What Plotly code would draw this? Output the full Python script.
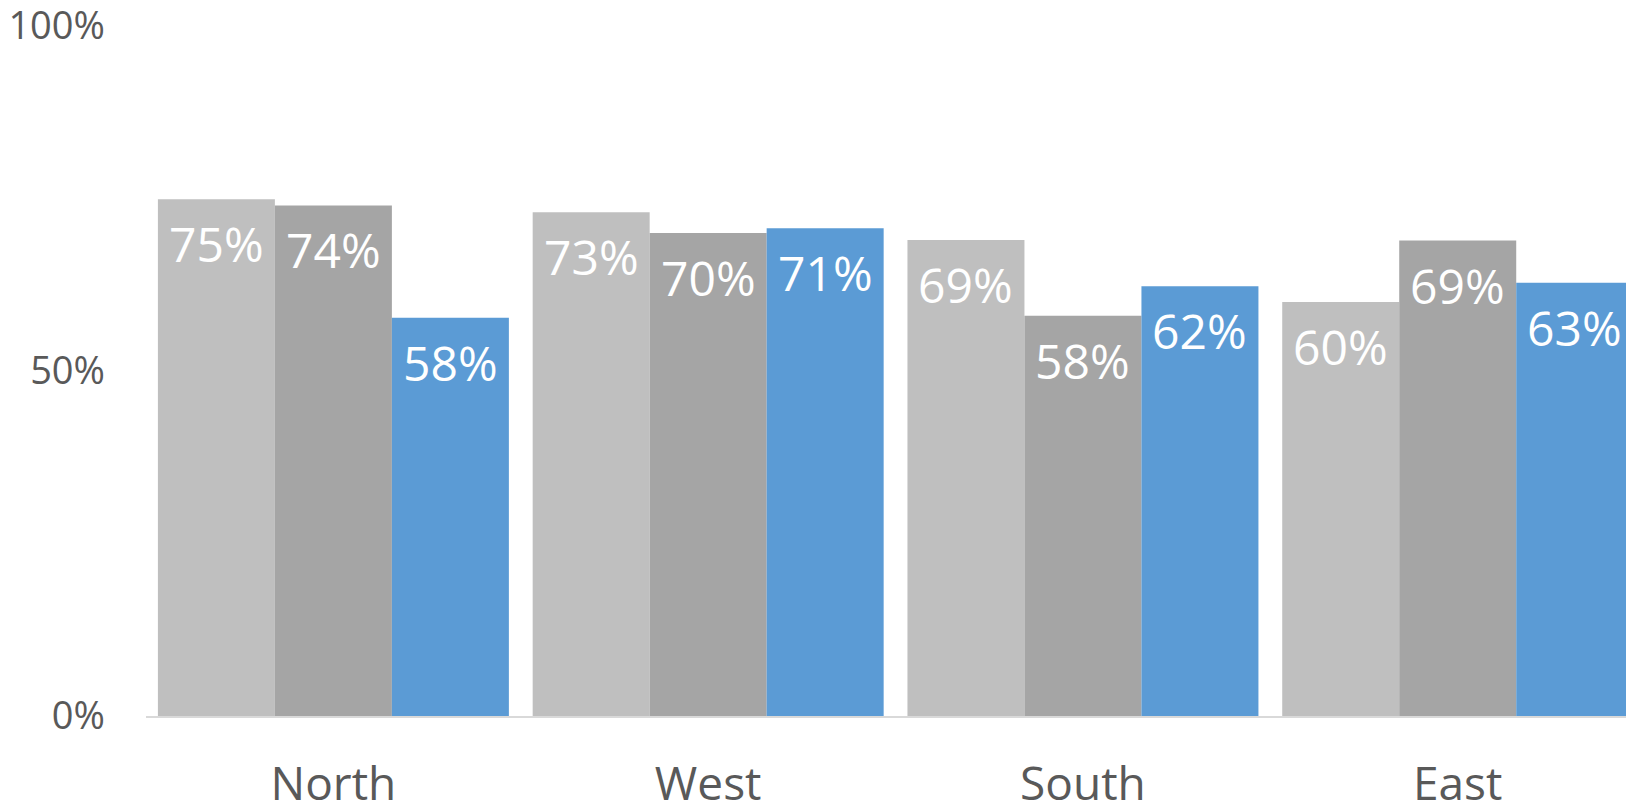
import plotly.graph_objects as go

# 区域与三个系列的数值
regions = ["North", "West", "South", "East"]
series_a = [0.749, 0.730, 0.690, 0.600]
series_b = [0.740, 0.700, 0.580, 0.689]
series_c = [0.577, 0.707, 0.623, 0.628]
series_names = ["Series 1", "Series 2", "Series 3"]
colors = ["#BFBFBF", "#A5A5A5", "#5B9BD5"]
y_ticks = [0, 0.5, 1.0]
y_tick_text = ["0%", "50%", "100%"]

FONT = "Open Sans"
X_RANGE = [-0.5, 3.449]
BARGAP = 0.0635
W, H = 1626, 806
M_L, M_T, M_B = 146, 26, 90

# 每根柱子的像素宽度，用来把数值标签放到对应柱子上
plot_w = W - M_L
pitch = plot_w / (X_RANGE[1] - X_RANGE[0])
bar_px = pitch * (1 - BARGAP) / 3

fig = go.Figure()
all_series = [series_a, series_b, series_c]
for name, vals, color in zip(series_names, all_series, colors):
    fig.add_trace(go.Bar(
        x=regions, y=vals, name=name,
        marker=dict(color=color, line=dict(width=0)),
        hoverinfo="x+y",
    ))

# 柱内白色百分比标签
for i, vals in enumerate(all_series):
    for r, v in zip(regions, vals):
        fig.add_annotation(
            x=r, y=v, xref="x", yref="y",
            text=f"{v:.0%}", showarrow=False,
            xshift=(i - 1) * bar_px, yanchor="top", yshift=-10,
            font=dict(family=FONT, size=48, color="white"),
        )

fig.update_layout(
    width=W, height=H,
    margin=dict(l=M_L, r=0, t=M_T, b=M_B),
    paper_bgcolor="white", plot_bgcolor="white",
    barmode="group", bargap=BARGAP, bargroupgap=0,
    showlegend=False,
    font=dict(family=FONT, color="#595959"),
    xaxis=dict(
        range=X_RANGE, showgrid=False, zeroline=False,
        showline=True, linecolor="#D9D9D9", linewidth=2,
        ticks="", tickfont=dict(size=46, color="#595959"),
        ticklabelstandoff=27, automargin=False,
    ),
    yaxis=dict(
        range=[0, 1.0], showgrid=False, zeroline=False, showline=False,
        tickvals=y_ticks, ticktext=y_tick_text, ticks="",
        tickfont=dict(size=38, color="#595959"),
        ticklabelstandoff=40, automargin=False,
        ticklabeloverflow="allow",
    ),
)

# 去掉页面 body 的默认 8px 边距，让图正好铺满窗口
fig.write_html(
    "out.html",
    config={"displayModeBar": False},
    post_script="document.body.style.margin='0';",
)
